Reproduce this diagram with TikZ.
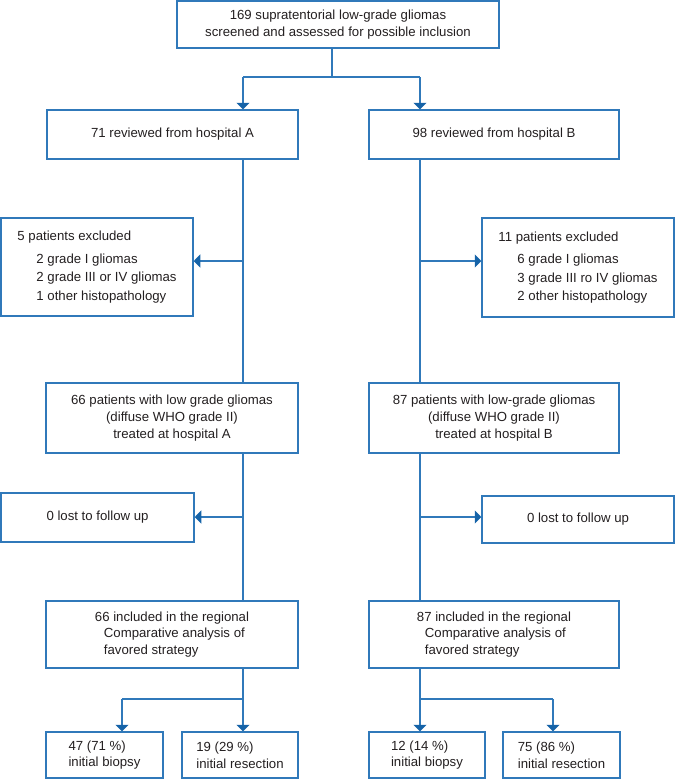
\documentclass[tikz,border=0pt]{standalone}
\usepackage{fontspec}
\setmainfont{Liberation Sans}
\usetikzlibrary{arrows.meta}
\definecolor{flowblue}{HTML}{3079BA}
\definecolor{tipblue}{HTML}{1563A8}
\definecolor{inkgray}{HTML}{231F20}

\begin{document}
\begin{tikzpicture}[x=1pt, y=-1pt,
% common options for boxes:
box/.style = {draw=flowblue, line width=1.5pt, text=inkgray, align=center,
            font=\fontsize{13.2}{16.7}\selectfont, inner sep=0},
% common options for the side boxes with a list:
listbox/.style = {box, align=left, minimum width=192pt},
% common options for the lines:
link/.style = {draw=flowblue, line width=1.5pt},
arr/.style = {link, -{Triangle[width=13pt,length=6.5pt,color=tipblue]}}]
\useasboundingbox (0,0) rectangle (675,780);
\node[box,minimum width=322pt,minimum height=47pt] (top) at (338,24.5)
  {169 supratentorial low-grade gliomas\\screened and assessed for possible inclusion};
\node[box,minimum width=251pt,minimum height=49pt] (hA) at (172.5,134.5) {71 reviewed from hospital A};
\node[box,minimum width=250pt,minimum height=49pt] (hB) at (494,134.5) {98 reviewed from hospital B};
\node[listbox,minimum height=98pt] (exA) at (97,267) {5 patients excluded\\[6pt]
  \hspace*{19pt}2 grade I gliomas\\[1.8pt]
  \hspace*{19pt}2 grade III or IV gliomas\\[1.8pt]
  \hspace*{19pt}1 other histopathology};
\node[listbox,minimum height=99pt] (exB) at (578,267.5) {11 patients excluded\\[6pt]
  \hspace*{19pt}6 grade I gliomas\\[1.8pt]
  \hspace*{19pt}3 grade III ro IV gliomas\\[1.8pt]
  \hspace*{19pt}2 other histopathology};
\node[box,minimum width=252pt,minimum height=70pt] (pA) at (172,418)
  {66 patients with low grade gliomas\\(diffuse WHO grade II)\\treated at hospital A};
\node[box,minimum width=250pt,minimum height=70pt] (pB) at (494,418)
  {87 patients with low-grade gliomas\\(diffuse WHO grade II)\\treated at hospital B};
\node[box,minimum width=193pt,minimum height=49pt] (lostA) at (97.5,517.5) {0 lost to follow up};
\node[box,minimum width=192pt,minimum height=47pt] (lostB) at (578,519.5) {0 lost to follow up};
\node[box,align=left,minimum width=252pt,minimum height=67pt] (incA) at (172,634.5)
  {66 included in the regional\\\hspace*{9pt}Comparative analysis of\\\hspace*{9pt}favored strategy};
\node[box,align=left,minimum width=250pt,minimum height=67pt] (incB) at (494,634.5)
  {87 included in the regional\\\hspace*{8pt}Comparative analysis of\\\hspace*{8pt}favored strategy};
\node[box,align=left,minimum width=117pt,minimum height=46pt] (bA1) at (104.5,755) {47 (71 \%)\\initial biopsy};
\node[box,align=left,minimum width=116pt,minimum height=46pt] (bA2) at (240,755) {19 (29 \%)\\initial resection};
\node[box,align=left,minimum width=116pt,minimum height=46pt] (bB1) at (427,755) {12 (14 \%)\\initial biopsy};
\node[box,align=left,minimum width=117pt,minimum height=46pt] (bB2) at (561.5,755) {75 (86 \%)\\initial resection};
% split points
\coordinate (s0) at (332,77);
\coordinate (sA) at (243,77);
\coordinate (sB) at (420,77);
\coordinate (eA) at (243,261);
\coordinate (eB) at (420,261);
\coordinate (lA) at (243,517);
\coordinate (lB) at (420,517);
\coordinate (dA) at (243,699);
\coordinate (dA1) at (122,699);
\coordinate (dB) at (420,699);
\coordinate (dB2) at (553,699);
% top split
\draw[link] (top.south -| s0) -- (s0);
\draw[link] (sA) -- (sB);
\draw[arr] (sA) -- (sA |- hA.north);
\draw[arr] (sB) -- (sB |- hB.north);
% hospital A
\draw[link] (hA.south -| sA) -- (pA.north -| sA);
\draw[arr] (eA) -- (eA -| exA.east);
\draw[link] (pA.south -| sA) -- (incA.north -| sA);
\draw[arr] (lA) -- (lA -| lostA.east);
\draw[link] (incA.south -| dA) -- (dA) -- (dA1);
\draw[arr] (dA1) -- (dA1 |- bA1.north);
\draw[arr] (dA) -- (dA |- bA2.north);
% hospital B
\draw[link] (hB.south -| sB) -- (pB.north -| sB);
\draw[arr] (eB) -- (eB -| exB.west);
\draw[link] (pB.south -| sB) -- (incB.north -| sB);
\draw[arr] (lB) -- (lB -| lostB.west);
\draw[link] (incB.south -| dB) -- (dB) -- (dB2);
\draw[arr] (dB) -- (dB |- bB1.north);
\draw[arr] (dB2) -- (dB2 |- bB2.north);
\end{tikzpicture}
\end{document}
